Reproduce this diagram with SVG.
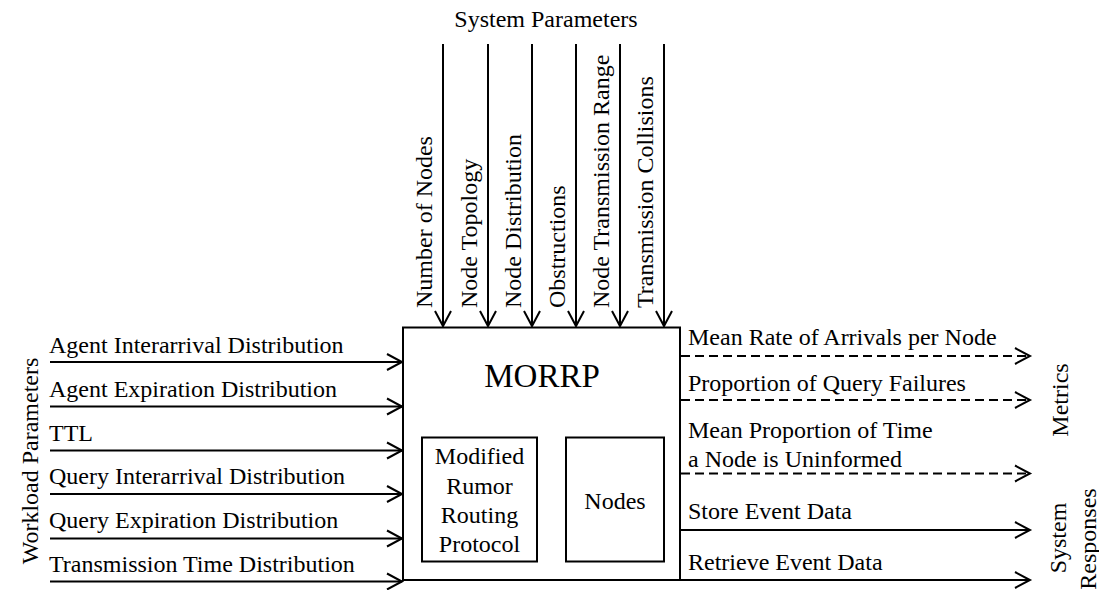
<svg xmlns="http://www.w3.org/2000/svg" width="1099" height="590" viewBox="0 0 1099 590">
<style>
text{font-family:"Liberation Serif","Times New Roman",serif;font-size:24px;fill:#000}
.ln{stroke:#000;stroke-width:2;fill:none;marker-end:url(#ah)}
.ds{stroke-dasharray:9 5}
.bx{fill:#fff;stroke:#000;stroke-width:2}
</style>
<defs>
<marker id="ah" markerUnits="userSpaceOnUse" markerWidth="20" markerHeight="20" viewBox="-17 -10 20 20" refX="0" refY="0" orient="auto">
<path d="M-15,-8 L0,0 L-15,8" fill="none" stroke="#000" stroke-width="2" stroke-dasharray="none"/>
</marker>
</defs>
<rect width="1099" height="590" fill="#fff"/>
<g id="connectors">
<line class="ln" x1="443" y1="44" x2="443" y2="326"/>
<line class="ln" x1="488" y1="44" x2="488" y2="326"/>
<line class="ln" x1="532" y1="44" x2="532" y2="326"/>
<line class="ln" x1="576" y1="44" x2="576" y2="326"/>
<line class="ln" x1="620" y1="44" x2="620" y2="326"/>
<line class="ln" x1="664" y1="44" x2="664" y2="326"/>
<line class="ln" x1="50" y1="362" x2="402" y2="362"/>
<line class="ln" x1="50" y1="406.5" x2="402" y2="406.5"/>
<line class="ln" x1="50" y1="450.5" x2="402" y2="450.5"/>
<line class="ln" x1="50" y1="494" x2="402" y2="494"/>
<line class="ln" x1="50" y1="538.5" x2="402" y2="538.5"/>
<line class="ln" x1="50" y1="581.5" x2="402" y2="581.5"/>
<line class="ln ds" x1="681" y1="356" x2="1030" y2="356"/>
<line class="ln ds" x1="681" y1="400" x2="1030" y2="400"/>
<line class="ln ds" x1="681" y1="473.5" x2="1030" y2="473.5"/>
<line class="ln" x1="681" y1="530" x2="1030" y2="530"/>
<line class="ln" x1="681" y1="580" x2="1030" y2="580"/>
</g>
<g id="morrp">
<rect class="bx" x="403" y="327.5" width="277" height="252.5"/>
<text x="542" y="387" text-anchor="middle" font-size="33" style="font-size:33px">MORRP</text>
</g>
<g id="protocol">
<rect class="bx" x="422" y="437.5" width="115" height="124"/>
<text text-anchor="middle"><tspan x="479.5" y="464">Modified</tspan><tspan x="479.5" y="494">Rumor</tspan><tspan x="479.5" y="523">Routing</tspan><tspan x="479.5" y="552">Protocol</tspan></text>
</g>
<g id="nodes">
<rect class="bx" x="566" y="437.5" width="98" height="124"/>
<text x="615" y="509" text-anchor="middle">Nodes</text>
</g>
<g id="system-params">
<text x="546" y="27" text-anchor="middle">System Parameters</text>
<text transform="translate(432,308) rotate(-90)">Number of Nodes</text>
<text transform="translate(477,308) rotate(-90)">Node Topology</text>
<text transform="translate(521,308) rotate(-90)">Node Distribution</text>
<text transform="translate(565,308) rotate(-90)">Obstructions</text>
<text transform="translate(609,308) rotate(-90)">Node Transmission Range</text>
<text transform="translate(653,308) rotate(-90)">Transmission Collisions</text>
</g>
<g id="workload-params">
<text transform="translate(37.5,461) rotate(-90)" text-anchor="middle">Workload Parameters</text>
<text x="49" y="352.5">Agent Interarrival Distribution</text>
<text x="49" y="397">Agent Expiration Distribution</text>
<text x="49" y="440.5">TTL</text>
<text x="49" y="484">Query Interarrival Distribution</text>
<text x="49" y="528">Query Expiration Distribution</text>
<text x="49" y="572">Transmission Time Distribution</text>
</g>
<g id="metrics">
<text transform="translate(1068,400) rotate(-90)" text-anchor="middle">Metrics</text>
<text x="688" y="345">Mean Rate of Arrivals per Node</text>
<text x="688" y="390.5">Proportion of Query Failures</text>
<text x="688" y="438">Mean Proportion of Time</text>
<text x="688" y="466.5">a Node is Uninformed</text>
</g>
<g id="system-responses">
<text transform="translate(1066,538) rotate(-90)" text-anchor="middle">System</text>
<text transform="translate(1096,539) rotate(-90)" text-anchor="middle">Responses</text>
<text x="688" y="519">Store Event Data</text>
<text x="688" y="570">Retrieve Event Data</text>
</g>
</svg>
